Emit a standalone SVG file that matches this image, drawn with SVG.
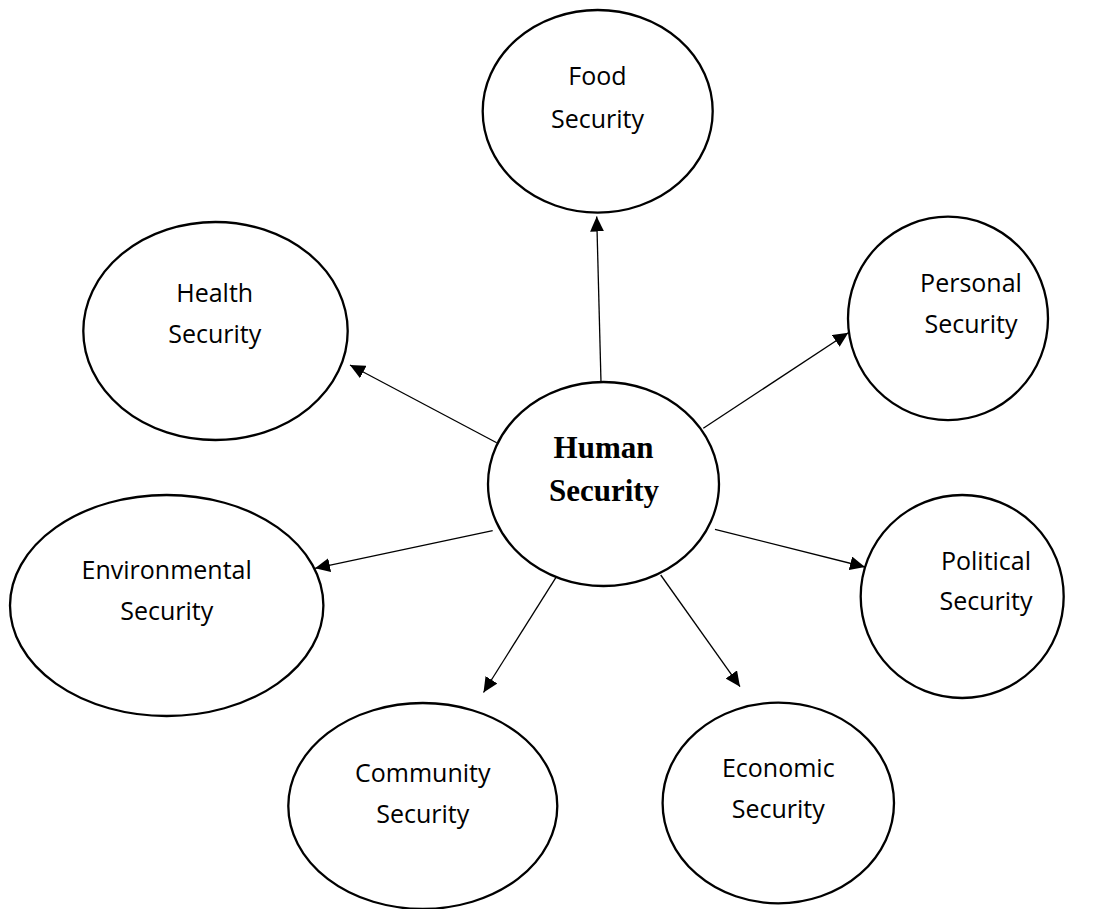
<svg xmlns="http://www.w3.org/2000/svg" width="1102" height="909" viewBox="0 0 1102 909">
  <style>
    .node { fill: #ffffff; stroke: #000000; stroke-width: 2.3; }
    .lbl { font-family: "Open Sans", "Liberation Sans", sans-serif; font-size: 25px; fill: #000000; text-anchor: middle; }
    .main { font-family: "Liberation Serif", "Times New Roman", serif; font-size: 31px; font-weight: bold; fill: #000000; text-anchor: middle; }
    .conn { stroke: #000000; stroke-width: 1.3; fill: none; marker-end: url(#arrow); }
  </style>
  <defs>
    <marker id="arrow" markerUnits="userSpaceOnUse" markerWidth="16" markerHeight="14" refX="15" refY="7" orient="auto">
      <path d="M0,0 L15,7 L0,14 Z" fill="#000000"/>
    </marker>
  </defs>
  <rect width="1102" height="909" fill="#ffffff"/>

  <g id="connectors">
    <line class="conn" x1="601" y1="382" x2="596.7" y2="216.5"/>
    <line class="conn" x1="496.7" y1="442.7" x2="350" y2="365"/>
    <line class="conn" x1="703.3" y1="428.3" x2="848.3" y2="332.7"/>
    <line class="conn" x1="492.7" y1="530.7" x2="315" y2="568.3"/>
    <line class="conn" x1="715" y1="529.3" x2="865" y2="567"/>
    <line class="conn" x1="556" y1="577.3" x2="483.5" y2="692.5"/>
    <line class="conn" x1="660.7" y1="575" x2="740" y2="686.7"/>
  </g>

  <g id="food">
    <ellipse class="node" cx="597.7" cy="111.3" rx="115" ry="101.3"/>
    <text class="lbl" x="597.5" y="85">Food</text>
    <text class="lbl" x="597.5" y="128">Security</text>
  </g>
  <g id="health">
    <ellipse class="node" cx="215.5" cy="331" rx="132.2" ry="109"/>
    <text class="lbl" x="214.7" y="301.7">Health</text>
    <text class="lbl" x="214.7" y="343">Security</text>
  </g>
  <g id="personal">
    <ellipse class="node" cx="948" cy="318.4" rx="100" ry="101.7"/>
    <text class="lbl" x="971" y="291.7">Personal</text>
    <text class="lbl" x="971" y="333">Security</text>
  </g>
  <g id="human">
    <ellipse class="node" cx="603.5" cy="484" rx="115.5" ry="102"/>
    <text class="main" x="603.5" y="457.7">Human</text>
    <text class="main" x="604" y="501">Security</text>
  </g>
  <g id="environmental">
    <ellipse class="node" cx="166.7" cy="605.5" rx="156.7" ry="110.5"/>
    <text class="lbl" x="166.7" y="579.3">Environmental</text>
    <text class="lbl" x="166.7" y="620">Security</text>
  </g>
  <g id="political">
    <ellipse class="node" cx="962.2" cy="596.5" rx="101.5" ry="101.5"/>
    <text class="lbl" x="986" y="570">Political</text>
    <text class="lbl" x="986" y="610">Security</text>
  </g>
  <g id="community">
    <ellipse class="node" cx="422.8" cy="806" rx="134.5" ry="103"/>
    <text class="lbl" x="422.8" y="781.7">Community</text>
    <text class="lbl" x="422.8" y="823.3">Security</text>
  </g>
  <g id="economic">
    <ellipse class="node" cx="778.3" cy="803" rx="115.7" ry="100.3"/>
    <text class="lbl" x="778.3" y="777.3">Economic</text>
    <text class="lbl" x="778.3" y="818.3">Security</text>
  </g>
</svg>
